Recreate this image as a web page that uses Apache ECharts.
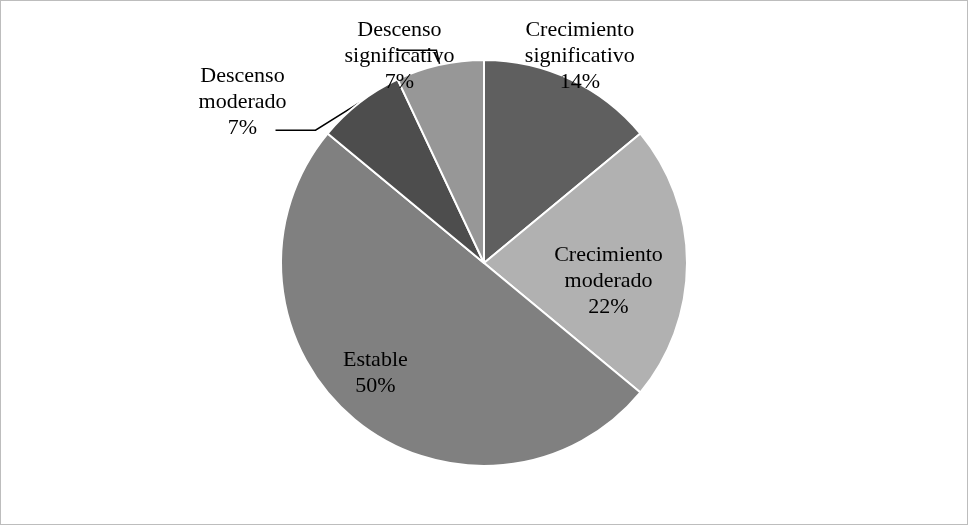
<!DOCTYPE html>
<html>
<head>
<meta charset="utf-8">
<script src="https://cdn.jsdelivr.net/npm/echarts@6/dist/echarts.min.js"></script>
<style>
  html, body { margin: 0; padding: 0; background: #fff; }
  #pieChart { width: 966px; height: 523px; border: 1px solid #bdbdbd; }
</style>
</head>
<body>
<div id="pieChart"></div>
<script>
var categories = ['Crecimiento\nsignificativo', 'Crecimiento\nmoderado', 'Estable', 'Descenso\nmoderado', 'Descenso\nsignificativo'];
var values = [14, 22, 50, 7, 7];
var colors = ['#5f5f5f', '#b1b1b1', '#808080', '#4d4d4d', '#979797'];
var labelPos = ['outside', 'inside', 'inside', 'outside', 'outside'];
// label nudges (dx, dy) to match the reference placement
var labelShift = [[-42, -10], [20, 18], [-42, 30], [-28, -28], [8, 6]];

var init_pieChart = function () {
    var myChart = echarts.init(document.getElementById('pieChart'));
    var data = categories.map(function (name, i) {
        var item = {
            name: name,
            value: values[i],
            itemStyle: { color: colors[i] },
            label: { position: labelPos[i] }
        };
        if (i === 0) {
            item.labelLine = { show: false };
        }
        return item;
    });
    var option = {
        series: [{
            type: 'pie',
            center: [483, 262],
            radius: 203,
            startAngle: 90,
            clockwise: true,
            animation: false,
            data: data,
            itemStyle: { borderColor: '#fff', borderWidth: 2 },
            label: {
                formatter: '{b}\n{d}%',
                fontFamily: 'Liberation Serif',
                fontSize: 22,
                lineHeight: 26,
                color: '#000'
            },
            labelLine: {
                show: true,
                length: 15,
                length2: 40,
                lineStyle: { color: '#000', width: 1.5 }
            },
            labelLayout: function (p) {
                var s = labelShift[p.dataIndex];
                return { dx: s[0], dy: s[1], align: 'center' };
            }
        }]
    };
    myChart.setOption(option);
};

init_pieChart();
</script>
</body>
</html>
